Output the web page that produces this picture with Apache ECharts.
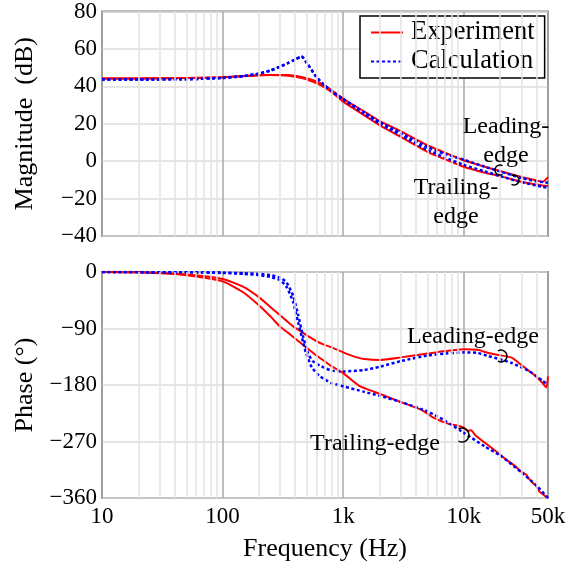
<!DOCTYPE html>
<html>
<head>
<meta charset="utf-8">
<script src="https://cdn.jsdelivr.net/npm/echarts@6/dist/echarts.min.js"></script>
<style>
  html, body { margin: 0; padding: 0; background: #fff; }
  #main { width: 586px; height: 569px; }
</style>
</head>
<body>
<div id="main"></div>
<script>
// frequency axis labels and minor grid positions
const freqLabels = { 10: '10', 100: '100', 1000: '1k', 10000: '10k', 50000: '50k' };
const minorFreqs = [20, 30, 40, 50, 60, 70, 80, 90,
  200, 300, 400, 500, 600, 700, 800, 900,
  2000, 3000, 4000, 5000, 6000, 7000, 8000, 9000,
  20000, 30000, 40000];

// magnitude (dB)
const magFreq = [10, 20, 50, 100, 150, 200, 250, 300, 350, 400, 450, 500, 600, 700, 800, 1000,
  1500, 2000, 3000, 5000, 7000, 10000, 15000, 20000, 30000, 40000, 45000, 50000];
const magExpLead = [44.2, 44.2, 44.4, 44.8, 45.5, 45.9, 46, 46, 46, 45.6, 45, 44.3, 42.6, 40.5, 38, 33.3,
  26.5, 21.6, 16, 8.5, 4.5, 0.5, -3, -5.3, -8.5, -10.3, -11, -8.5];
const magExpTrail = [44.2, 44.2, 44.4, 44.8, 45.5, 45.9, 46, 45.9, 45.6, 45.1, 44.4, 43.6, 41.7, 39.5, 37, 31.8,
  24.5, 19.3, 13, 5, 1, -3, -6.2, -8, -11, -12.5, -13, -13.4];
const magCalcLead = [43.7, 43.7, 43.8, 44.5, 45.5, 46.8, 48.5, 50.5, 52.5, 54.3, 56, 52.5, 45, 40.5, 37.5, 33.3,
  26, 21, 15, 7.5, 3.8, 0.8, -3, -5.5, -9, -10.8, -11.2, -11.5];
const magCalcTrail = [43.7, 43.7, 43.8, 44.5, 45.5, 46.8, 48.5, 50.5, 52.5, 54.3, 56, 52.5, 45, 40.5, 37.5, 33,
  25.3, 20.2, 14, 6, 2, -2, -5.5, -8, -11.2, -13, -13.7, -14.2];

// phase (deg)
const phExpLeadFreq = [10, 20, 50, 100, 150, 200, 250, 300, 350, 400, 450, 500, 600, 700, 800, 1000, 1300,
  1500, 2000, 3000, 5000, 7000, 10000, 13000, 16000, 20000, 25000, 30000, 35000, 40000, 45000, 48500, 50000];
const phExpLead = [0, -0.5, -4, -11, -24, -40, -56, -69, -80, -89, -95, -101, -110, -116, -120, -128, -136,
  -138.5, -140, -136, -130, -126, -123, -124, -129, -132.5, -136.5, -148, -158, -167, -177, -184, -166];
const phExpTrailFreq = [10, 20, 50, 100, 150, 200, 250, 300, 350, 400, 450, 500, 600, 700, 800, 1000, 1350,
  1600, 2000, 3000, 4500, 5500, 7500, 9000, 10000, 10800, 11500, 12500, 14500, 17000, 20000, 23000, 27000,
  30000, 33000, 35000, 37500, 40000, 42500, 46000, 50000];
const phExpTrail = [0, -0.5, -5, -15, -33, -53, -71, -87, -97, -106, -114, -121, -133, -142, -150, -161, -181,
  -187, -194, -207, -220, -231, -242, -245, -248, -253, -252, -260, -270, -280, -291, -300, -310,
  -318, -323, -330, -336, -341, -350, -355, -360];
const phCalcLeadFreq = [10, 50, 100, 150, 200, 250, 300, 340, 385, 423, 466, 513, 560, 640, 800, 1000, 1500,
  2000, 3000, 5000, 7000, 10000, 13000, 16000, 20000, 25000, 30000, 35000, 40000, 45000, 50000];
const phCalcLead = [0, -0.5, -1, -2, -3, -5, -9, -17, -38, -68, -103, -130, -142, -149, -157, -158.5, -156,
  -151, -142, -133, -130, -128, -129, -134, -139, -145, -152, -158, -166, -173, -180];
const phCalcTrailFreq = [10, 50, 100, 150, 200, 250, 300, 340, 385, 423, 466, 490, 550, 640, 800, 1000, 1500,
  2000, 3000, 5000, 7000, 10000, 15000, 20000, 30000, 40000, 50000];
const phCalcTrail = [0, -0.5, -1.5, -3, -5, -8, -13, -24, -48, -80, -112, -128, -152, -166, -177, -182, -191,
  -197, -207, -222, -237, -256, -278, -292, -319, -340, -360];

const serif = '"Liberation Serif", "Times New Roman", serif';
const RED = '#ff0000';
const BLUE = '#0000ff';

function pairs(f, v) {
  return f.map((x, i) => [x, v[i]]);
}
function minusFmt(v) {
  return v < 0 ? '\u2212' + (-v) : String(v);
}

const chart = echarts.init(document.getElementById('main'), null, { renderer: 'canvas' });

function xAxisCfg(idx, withLabels) {
  return {
    type: 'log',
    logBase: 10,
    gridIndex: idx,
    min: 10,
    max: 50000,
    axisLine: { show: false },
    axisTick: { show: false },
    splitLine: { show: true, lineStyle: { color: '#a8a8a8', width: 1.5 } },
    axisLabel: {
      show: withLabels,
      color: '#000',
      fontFamily: serif,
      fontSize: 23,
      margin: 7,
      showMinLabel: true,
      showMaxLabel: true,
      formatter: v => freqLabels[Math.round(v)] || ''
    },
    name: withLabels ? 'Frequency (Hz)' : '',
    nameLocation: 'middle',
    nameGap: 38,
    nameTextStyle: { color: '#000', fontFamily: serif, fontSize: 26 }
  };
}

function yAxisCfg(idx, min, max, interval, name) {
  return {
    type: 'value',
    gridIndex: idx,
    min: min,
    max: max,
    interval: interval,
    axisLine: { show: false },
    axisTick: { show: false },
    splitLine: { show: true, lineStyle: { color: '#dcdcdc', width: 1.5 } },
    axisLabel: { color: '#000', fontFamily: serif, fontSize: 23, margin: 5, formatter: minusFmt },
    name: name,
    nameLocation: 'middle',
    nameRotate: 90,
    nameGap: 64,
    nameTextStyle: { color: '#000', fontFamily: serif, fontSize: 26 }
  };
}

function minorGrid(idx) {
  return {
    type: 'line',
    xAxisIndex: idx,
    yAxisIndex: idx,
    data: [],
    z: 1,
    silent: true,
    markLine: {
      silent: true,
      symbol: 'none',
      animation: false,
      label: { show: false },
      lineStyle: { color: '#e2e2e2', width: 1.5, type: 'solid' },
      data: minorFreqs.map(f => ({ xAxis: f }))
    }
  };
}

function curve(name, idx, data, color, dotted) {
  return {
    name: name,
    type: 'line',
    xAxisIndex: idx,
    yAxisIndex: idx,
    data: data,
    symbol: 'none',
    smooth: 0.2,
    z: 3,
    lineStyle: {
      color: color,
      width: dotted ? 2.5 : 2,
      type: dotted ? [3, 2.5] : 'solid'
    },
    itemStyle: { color: color }
  };
}

const annoFont = { fontFamily: serif, fontSize: 24, fill: '#000', align: 'center', verticalAlign: 'middle' };

function label(text, x, y) {
  return { type: 'text', x: x, y: y, z: 10, style: Object.assign({ text: text, lineHeight: 29 }, annoFont) };
}
function hook(cx, cy, r, openRight) {
  return {
    type: 'arc',
    z: 10,
    shape: openRight
      ? { cx: cx, cy: cy, r: r, startAngle: Math.PI / 3, endAngle: Math.PI * 5 / 3, clockwise: true }
      : { cx: cx, cy: cy, r: r, startAngle: -Math.PI * 2 / 3, endAngle: Math.PI * 2 / 3, clockwise: true },
    style: { stroke: '#000', fill: 'none', lineWidth: 1.5 }
  };
}

const option = {
  animation: false,
  backgroundColor: '#fff',
  grid: [
    { left: 102, top: 9, width: 446, height: 227, show: true, borderColor: '#808080', borderWidth: 2 },
    { left: 102, top: 272, width: 446, height: 226, show: true, borderColor: '#808080', borderWidth: 2 }
  ],
  xAxis: [xAxisCfg(0, false), xAxisCfg(1, true)],
  yAxis: [
    yAxisCfg(0, -40, 80, 20, 'Magnitude  (dB)'),
    yAxisCfg(1, -360, 0, 90, 'Phase (\u00b0)')
  ],
  legend: {
    data: ['Experiment', 'Calculation'],
    orient: 'vertical',
    left: 360,
    top: 16,
    padding: [3, 10, 3, 10],
    itemGap: 2,
    itemWidth: 32,
    itemHeight: 14,
    backgroundColor: '#fff',
    borderColor: '#000',
    borderWidth: 1.5,
    borderRadius: 0,
    itemStyle: { opacity: 0, borderWidth: 0 },
    textStyle: { color: '#000', fontFamily: serif, fontSize: 26.5, lineHeight: 27, padding: [0, 0, 0, 3] }
  },
  series: [
    minorGrid(0),
    minorGrid(1),
    curve('Experiment', 0, pairs(magFreq, magExpLead), RED, false),
    curve('Experiment', 0, pairs(magFreq, magExpTrail), RED, false),
    curve('Calculation', 0, pairs(magFreq, magCalcLead), BLUE, true),
    curve('Calculation', 0, pairs(magFreq, magCalcTrail), BLUE, true),
    curve('Experiment', 1, pairs(phExpLeadFreq, phExpLead), RED, false),
    curve('Experiment', 1, pairs(phExpTrailFreq, phExpTrail), RED, false),
    curve('Calculation', 1, pairs(phCalcLeadFreq, phCalcLead), BLUE, true),
    curve('Calculation', 1, pairs(phCalcTrailFreq, phCalcTrail), BLUE, true)
  ],
  graphic: [
    label('Leading-\nedge', 506, 141),
    label('Trailing-\nedge', 456, 202),
    label('Leading-edge', 473, 337),
    label('Trailing-edge', 375, 444),
    hook(500, 170, 5, true),
    hook(514, 180, 5, false),
    hook(501, 356, 6, false),
    hook(462, 435, 7, false)
  ]
};

chart.setOption(option);
</script>
</body>
</html>
